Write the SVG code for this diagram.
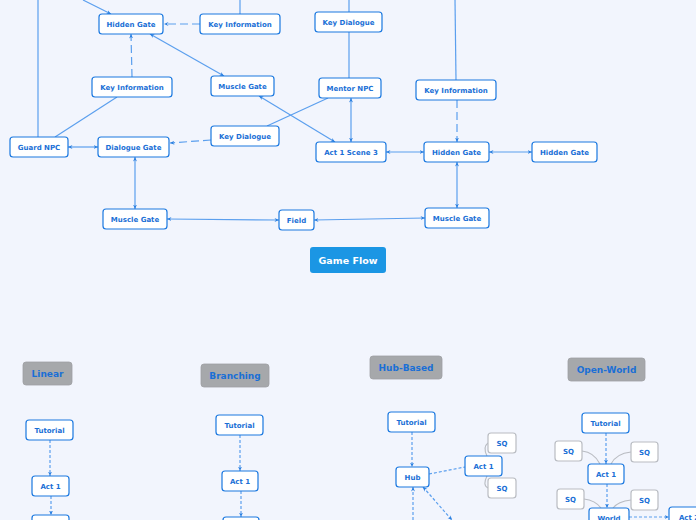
<svg xmlns="http://www.w3.org/2000/svg" width="696" height="520" viewBox="0 0 696 520">
<defs>
<style>
.n rect{fill:#fff;stroke:#1a78e0;stroke-width:1.2}
.n text{font-family:"DejaVu Sans",Verdana,sans-serif;font-weight:bold;font-size:7px;fill:#1a6fd6;text-anchor:middle}
.sq rect{fill:#fff;stroke:#b9bcc2;stroke-width:1.2}
.sq text{font-family:"DejaVu Sans",Verdana,sans-serif;font-weight:bold;font-size:7px;fill:#1a6fd6;text-anchor:middle}
.h rect{fill:#a6a8ab;stroke:#9ea0a3;stroke-width:0.8}
.h text{font-family:"DejaVu Sans",Verdana,sans-serif;font-weight:bold;font-size:9px;fill:#1a6fd6;text-anchor:middle}
.l{fill:none;stroke:#5b9fee;stroke-width:1.2}
.d{stroke-dasharray:8,4}
.ds{stroke-dasharray:3,2}
.g{fill:none;stroke:#b9bcc2;stroke-width:1.1}
.e{marker-end:url(#a)}
.b{marker-start:url(#a);marker-end:url(#a)}
</style>
<marker id="a" viewBox="0 0 10 10" refX="9" refY="5" markerWidth="5" markerHeight="5" markerUnits="userSpaceOnUse" orient="auto-start-reverse">
<path d="M0,1 L9,5 L0,9 L3,5 z" fill="#2a7fe0"/>
</marker>
</defs>
<rect width="696" height="520" fill="#f2f5fd"/>
<g id="connectors">
<line class="l e" x1="83" y1="0" x2="111" y2="14"/>
<line class="l" x1="38" y1="0" x2="38" y2="137"/>
<line class="l d e" x1="200" y1="24" x2="164" y2="24"/>
<line class="l" x1="240" y1="0" x2="240" y2="14"/>
<line class="l d e" x1="132" y1="77" x2="131" y2="34"/>
<line class="l b" x1="150" y1="34" x2="224" y2="76"/>
<line class="l" x1="117" y1="97" x2="55" y2="137"/>
<line class="l b" x1="68" y1="147" x2="98" y2="147"/>
<line class="l d e" x1="211" y1="140" x2="170" y2="143"/>
<line class="l" x1="267" y1="126" x2="328" y2="98"/>
<line class="l b" x1="259" y1="96" x2="335" y2="142"/>
<line class="l b" x1="351" y1="98" x2="351" y2="142"/>
<line class="l" x1="349" y1="32" x2="349" y2="78"/>
<line class="l" x1="349" y1="0" x2="349" y2="12"/>
<line class="l b" x1="386" y1="152" x2="424" y2="152"/>
<line class="l" x1="455" y1="0" x2="456" y2="80"/>
<line class="l d e" x1="457" y1="100" x2="457" y2="142"/>
<line class="l b" x1="489" y1="152" x2="532" y2="152"/>
<line class="l b" x1="457" y1="162" x2="457" y2="208"/>
<line class="l b" x1="314" y1="220" x2="425" y2="218"/>
<line class="l b" x1="167" y1="219" x2="279" y2="220"/>
<line class="l b" x1="135" y1="157" x2="135" y2="209"/>
<line class="l ds e" x1="50" y1="440" x2="50" y2="476"/>
<line class="l ds e" x1="51" y1="496" x2="51" y2="515"/>
<line class="l ds e" x1="240" y1="435" x2="240" y2="471"/>
<line class="l ds e" x1="241" y1="491" x2="241" y2="517"/>
<line class="l ds e" x1="412" y1="432" x2="412" y2="467"/>
<line class="l ds" x1="429" y1="474" x2="465" y2="467"/>
<line class="l ds e" x1="413" y1="520" x2="413" y2="487"/>
<line class="l ds b" x1="423" y1="487" x2="452" y2="520"/>
<path class="g" d="M487,456 C484,450 484,446 488,443"/>
<path class="g" d="M487,476 C484,482 484,486 488,488"/>
<line class="l ds e" x1="606" y1="433" x2="606" y2="464"/>
<line class="l ds e" x1="607" y1="484" x2="607" y2="508"/>
<line class="l ds e" x1="629" y1="517" x2="669" y2="517"/>
<path class="g" d="M582,451 C592,452 597,458 600,464"/>
<path class="g" d="M631,452 C621,453 614,458 611,464"/>
<path class="g" d="M584,499 C593,500 598,504 601,508"/>
<path class="g" d="M631,500 C622,501 616,504 613,508"/>
</g>
<g id="hidden-gate-1" class="n"><rect x="99" y="14" width="64" height="20" rx="3"/><text x="131" y="26.5">Hidden Gate</text></g>
<g id="key-info-1" class="n"><rect x="200" y="14" width="80" height="20" rx="3"/><text x="240" y="26.5">Key Information</text></g>
<g id="key-dialogue-1" class="n"><rect x="315" y="12" width="67" height="20" rx="3"/><text x="348.5" y="24.5">Key Dialogue</text></g>
<g id="key-info-2" class="n"><rect x="92" y="77" width="80" height="20" rx="3"/><text x="132" y="89.5">Key Information</text></g>
<g id="muscle-gate-1" class="n"><rect x="211" y="76" width="63" height="20" rx="3"/><text x="242.5" y="88.5">Muscle Gate</text></g>
<g id="mentor-npc" class="n"><rect x="319" y="78" width="62" height="20" rx="3"/><text x="350" y="90.5">Mentor NPC</text></g>
<g id="key-info-3" class="n"><rect x="416" y="80" width="80" height="20" rx="3"/><text x="456" y="92.5">Key Information</text></g>
<g id="guard-npc" class="n"><rect x="10" y="137" width="58" height="20" rx="3"/><text x="39" y="149.5">Guard NPC</text></g>
<g id="dialogue-gate" class="n"><rect x="98" y="137" width="71" height="20" rx="3"/><text x="133.5" y="149.5">Dialogue Gate</text></g>
<g id="key-dialogue-2" class="n"><rect x="211" y="126" width="68" height="20" rx="3"/><text x="245" y="138.5">Key Dialogue</text></g>
<g id="act1-scene3" class="n"><rect x="316" y="142" width="70" height="20" rx="3"/><text x="351" y="154.5">Act 1 Scene 3</text></g>
<g id="hidden-gate-2" class="n"><rect x="424" y="142" width="65" height="20" rx="3"/><text x="456.5" y="154.5">Hidden Gate</text></g>
<g id="hidden-gate-3" class="n"><rect x="532" y="142" width="65" height="20" rx="3"/><text x="564.5" y="154.5">Hidden Gate</text></g>
<g id="muscle-gate-2" class="n"><rect x="425" y="208" width="64" height="20" rx="3"/><text x="457" y="220.5">Muscle Gate</text></g>
<g id="field" class="n"><rect x="279" y="210" width="35" height="20" rx="3"/><text x="296.5" y="222.5">Field</text></g>
<g id="muscle-gate-3" class="n"><rect x="103" y="209" width="64" height="20" rx="3"/><text x="135" y="221.5">Muscle Gate</text></g>
<g id="game-flow"><rect x="310" y="247" width="76" height="26" rx="3" fill="#1b96e4"/><text x="348" y="263.5" font-family="DejaVu Sans,Verdana,sans-serif" font-weight="bold" font-size="9.5" fill="#fff" text-anchor="middle">Game Flow</text></g>
<g id="linear" class="h"><rect x="23" y="362" width="49" height="23" rx="3"/><text x="47.5" y="376.5">Linear</text></g>
<g id="branching" class="h"><rect x="201" y="364" width="68" height="23" rx="3"/><text x="235" y="378.5">Branching</text></g>
<g id="hub-based" class="h"><rect x="370" y="356" width="72" height="23" rx="3"/><text x="406" y="370.5">Hub-Based</text></g>
<g id="open-world" class="h"><rect x="568" y="358" width="77" height="23" rx="3"/><text x="606.5" y="372.5">Open-World</text></g>
<g id="lin-tutorial" class="n"><rect x="26" y="420" width="47" height="20" rx="3"/><text x="49.5" y="432.5">Tutorial</text></g>
<g id="lin-act1" class="n"><rect x="32" y="476" width="37" height="20" rx="3"/><text x="50.5" y="488.5">Act 1</text></g>
<g id="lin-next" class="n"><rect x="32" y="515" width="37" height="20" rx="3"/></g>
<g id="br-tutorial" class="n"><rect x="216" y="415" width="47" height="20" rx="3"/><text x="239.5" y="427.5">Tutorial</text></g>
<g id="br-act1" class="n"><rect x="222" y="471" width="36" height="20" rx="3"/><text x="240" y="483.5">Act 1</text></g>
<g id="br-next" class="n"><rect x="223" y="517" width="36" height="20" rx="3"/></g>
<g id="hub-tutorial" class="n"><rect x="388" y="412" width="47" height="20" rx="3"/><text x="411.5" y="424.5">Tutorial</text></g>
<g id="hub" class="n"><rect x="396" y="467" width="33" height="20" rx="3"/><text x="412.5" y="479.5">Hub</text></g>
<g id="hub-act1" class="n"><rect x="465" y="456" width="37" height="20" rx="3"/><text x="483.5" y="468.5">Act 1</text></g>
<g id="hub-sq1" class="sq"><rect x="488" y="433" width="28" height="20" rx="3"/><text x="502" y="445.5">SQ</text></g>
<g id="hub-sq2" class="sq"><rect x="488" y="478" width="28" height="20" rx="3"/><text x="502" y="490.5">SQ</text></g>
<g id="ow-tutorial" class="n"><rect x="582" y="413" width="47" height="20" rx="3"/><text x="605.5" y="425.5">Tutorial</text></g>
<g id="ow-sq1" class="sq"><rect x="555" y="441" width="27" height="20" rx="3"/><text x="568.5" y="453.5">SQ</text></g>
<g id="ow-sq2" class="sq"><rect x="631" y="442" width="27" height="20" rx="3"/><text x="644.5" y="454.5">SQ</text></g>
<g id="ow-act1" class="n"><rect x="588" y="464" width="36" height="20" rx="3"/><text x="606" y="476.5">Act 1</text></g>
<g id="ow-sq3" class="sq"><rect x="557" y="489" width="27" height="20" rx="3"/><text x="570.5" y="501.5">SQ</text></g>
<g id="ow-sq4" class="sq"><rect x="631" y="490" width="27" height="20" rx="3"/><text x="644.5" y="502.5">SQ</text></g>
<g id="ow-world" class="n"><rect x="589" y="508" width="40" height="20" rx="3"/><text x="609" y="520.5">World</text></g>
<g id="ow-act2" class="n"><rect x="669" y="507" width="40" height="20" rx="3"/><text x="689" y="519.5">Act 2</text></g>
</svg>
